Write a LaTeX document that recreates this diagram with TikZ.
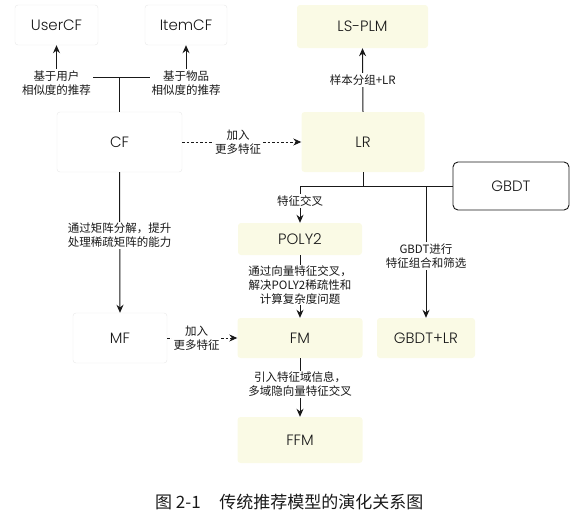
\documentclass[tikz,border=0pt]{standalone}
\usepackage{fontspec}
\setmainfont{Poppins}[UprightFont=* Light]
\newfontfamily\cjk{Noto Sans CJK SC}
\usetikzlibrary{arrows.meta}
\definecolor{ylw}{RGB}{250,250,229}
\definecolor{ink}{RGB}{25,25,25}
\begin{document}
\begin{tikzpicture}[x=1pt,y=-1pt,
  box/.style={rounded corners=3pt, inner sep=0pt, text=ink,
    font=\fontsize{15}{18}\selectfont},
  wbox/.style={box, draw=black!9, fill=white},
  ybox/.style={box, fill=ylw},
  gbox/.style={box, draw=ink, line width=0.9pt, fill=white, rounded corners=5pt},
  lbl/.style={fill=white, inner sep=1.5pt, align=center, text=ink,
    font=\cjk\fontsize{11.5}{14}\selectfont},
  arr/.style={-{Stealth[length=8pt,width=7pt]}, line width=1pt, draw=ink},
  ln/.style={line width=1pt, draw=ink},
  darr/.style={arr, dash pattern=on 2.5pt off 2pt}]
\useasboundingbox (0,0) rectangle (584,514);

% nodes
\node[wbox, minimum width=83pt, minimum height=40pt] (ucf) at (56.5,25) {UserCF};
\node[wbox, minimum width=82pt, minimum height=40pt] (icf) at (186,25) {ItemCF};
\node[wbox, minimum width=125pt, minimum height=60pt] (cf) at (119.5,142) {CF};
\node[ybox, minimum width=131pt, minimum height=43pt] (lsplm) at (362.5,26.5) {LS-PLM};
\node[ybox, minimum width=123pt, minimum height=60pt] (lr) at (363,142) {LR};
\node[gbox, minimum width=116pt, minimum height=48pt] (gbdt) at (511,186) {GBDT};
\node[ybox, minimum width=124pt, minimum height=32pt] (poly) at (300,239) {POLY2};
\node[ybox, minimum width=125pt, minimum height=40pt] (fm) at (300,338) {FM};
\node[ybox, minimum width=98pt, minimum height=40pt] (gbdtlr) at (426,338) {GBDT+LR};
\node[wbox, minimum width=94pt, minimum height=50pt] (mf) at (120,338) {MF};
\node[ybox, minimum width=125pt, minimum height=46pt] (ffm) at (300,440) {FFM};

% junction coordinates
\coordinate (fork) at (119.5,77);
\coordinate (jl) at (363,186);
\coordinate (jg) at (426,186);

% CF fork
\draw[ln] (cf.north) -- (fork);
\draw[arr] (fork) -| (ucf.south)
  node[lbl, anchor=center] at (56.5,83) {基于用户\\相似度的推荐};
\draw[arr] (fork) -| (icf.south)
  node[lbl, anchor=center] at (186,83) {基于物品\\相似度的推荐};

% CF -> MF
\draw[arr] (cf.south) -- (mf.north)
  node[lbl, pos=0.45] {通过矩阵分解，提升\\处理稀疏矩阵的能力};

% dashed
\draw[darr] (cf.east) -- (lr.west)
  node[lbl, pos=0.47] {加入\\更多特征};
\draw[darr] (mf.east) -- (fm.west)
  node[lbl, pos=0.42] {加入\\更多特征};

% LR -> LS-PLM
\draw[arr] (lr.north) -- (lsplm.south)
  node[lbl, pos=0.5] {样本分组+LR};

% LR junction
\draw[ln] (lr.south) -- (jl);
\draw[ln] (gbdt.west) -- (jl);
\draw[arr] (jl) -| (poly.north)
  node[lbl, anchor=center] at (300,201) {特征交叉};
\draw[arr] (jg) -- (gbdtlr.north)
  node[lbl, pos=0.53] {GBDT进行\\特征组合和筛选};

% POLY2 -> FM
\draw[arr] (poly.south) -- (fm.north)
  node[lbl, pos=0.48, inner sep=0.5pt] {通过向量特征交叉，\\解决POLY2稀疏性和\\计算复杂度问题};

% FM -> FFM
\draw[arr] (fm.south) -- (ffm.north)
  node[lbl, pos=0.45] {引入特征域信息，\\多域隐向量特征交叉};

% caption
\node[anchor=west, inner sep=0pt, text=ink, font=\cjk\fontsize{17}{19}\selectfont] (cap) at (155,502) {图 2-1\hspace{1.1em}传统推荐模型的演化关系图};
\end{tikzpicture}
\end{document}
